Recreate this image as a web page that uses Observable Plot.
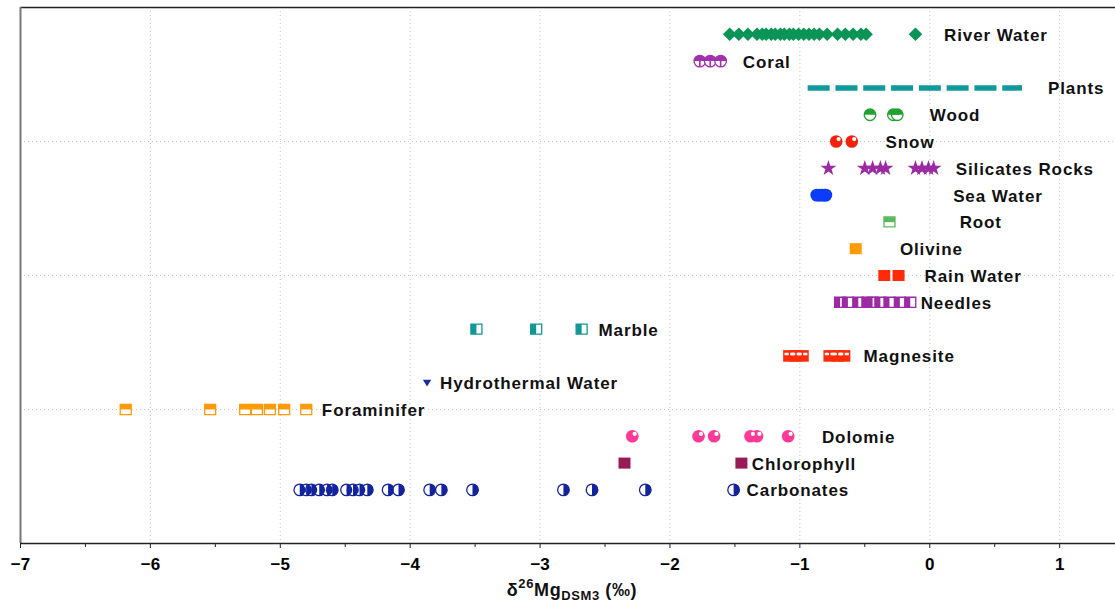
<!DOCTYPE html>
<html><head><meta charset="utf-8">
<script src="https://cdn.jsdelivr.net/npm/d3@7"></script>
<script src="https://cdn.jsdelivr.net/npm/@observablehq/plot@0.6"></script>
<style>
body{margin:0;background:#fff}
#chart svg{font-family:"Liberation Sans",Arial,Helvetica,sans-serif}
g.labels text{letter-spacing:0.9px}
</style>
</head><body><div id="chart"></div>
<script>
// Rows from bottom (1) to top (18)
const categories = ["Carbonates","Chlorophyll","Dolomie","Foraminifer","Hydrothermal Water","Magnesite","Marble","Needles","Rain Water","Olivine","Root","Sea Water","Silicates Rocks","Snow","Wood","Plants","Coral","River Water"];

const riverWater = [-1.54,-1.47,-1.40,-1.33,-1.29,-1.26,-1.22,-1.19,-1.15,-1.12,-1.08,-1.05,-1.01,-0.97,-0.93,-0.89,-0.85,-0.79,-0.71,-0.65,-0.59,-0.53,-0.49,-0.11];
const coral = [-1.77,-1.69,-1.61];
const plants = [-0.94,0.71];
const wood = [-0.46,-0.28,-0.25];
const snow = [-0.72,-0.60];
const silicatesRocks = [-0.78,-0.50,-0.44,-0.38,-0.34,-0.11,-0.06,-0.01,0.03];
const seaWater = [-0.87,-0.85,-0.83,-0.81,-0.80];
const root = [-0.31];
const olivine = [-0.57];
const rainWater = [-0.35,-0.24];
const needles = [-0.69,-0.63,-0.55,-0.48,-0.44,-0.38,-0.31,-0.23,-0.15];
const marble = [-3.49,-3.03,-2.68];
const magnesite = [-1.08,-1.03,-0.98,-0.77,-0.71,-0.66];
const hydrothermalWater = [-3.87];
const foraminifer = [-6.19,-5.54,-5.27,-5.18,-5.08,-4.97,-4.80];
const dolomie = [-2.29,-1.78,-1.66,-1.38,-1.33,-1.09];
const chlorophyll = [-2.35,-1.45];
const carbonates = [-4.85,-4.80,-4.76,-4.70,-4.64,-4.60,-4.49,-4.44,-4.39,-4.33,-4.17,-4.09,-3.85,-3.76,-3.52,-2.82,-2.60,-2.19,-1.51];

// label anchor (x, data units) for each category, same order as categories
const labelX = [-1.41,-1.37,-0.83,-4.68,-3.77,-0.51,-2.55,-0.07,-0.04,-0.23,0.23,0.18,0.20,-0.34,0.00,0.91,-1.44,0.11];

const xTicks = [-7,-6,-5,-4,-3,-2,-1,0,1];
const xMinorTicks = [-6.5,-5.5,-4.5,-3.5,-2.5,-1.5,-0.5,0.5];
const yGrid = [4,9,14];

const seriesValues = {
  "River Water": riverWater, "Coral": coral, "Wood": wood, "Snow": snow,
  "Silicates Rocks": silicatesRocks, "Sea Water": seaWater, "Root": root, "Olivine": olivine,
  "Rain Water": rainWater, "Needles": needles, "Marble": marble, "Magnesite": magnesite,
  "Hydrothermal Water": hydrothermalWater, "Foraminifer": foraminifer, "Dolomie": dolomie,
  "Chlorophyll": chlorophyll, "Carbonates": carbonates
};
const rowOf = name => categories.indexOf(name) + 1;

// custom symbols
const rad = size => Math.sqrt(size / Math.PI);
const sym = f => ({draw(ctx, size){ f(ctx, rad(size)); }});
const circleSym = sym((c,r)=>{c.moveTo(r,0);c.arc(0,0,r,0,2*Math.PI);c.closePath();});
const squareSym = sym((c,r)=>{c.rect(-r,-r*0.92,2*r,1.84*r);});
const diamondSym = sym((c,r)=>{c.moveTo(0,-r);c.lineTo(r,0);c.lineTo(0,r);c.lineTo(-r,0);c.closePath();});
const halfRight = sym((c,r)=>{c.moveTo(0,-r);c.arc(0,0,r,-Math.PI/2,Math.PI/2);c.closePath();});
const halfTop = sym((c,r)=>{c.moveTo(-r,0);c.arc(0,0,r,Math.PI,2*Math.PI);c.closePath();});
const coralSym = sym((c,r)=>{c.moveTo(-r,0);c.arc(0,0,r,Math.PI,2*Math.PI);c.closePath();c.rect(-r*0.14,0,r*0.28,r);});
const squareTop = sym((c,r)=>{c.rect(-r,-r*0.92,2*r,0.92*r);});
const squareLeft = sym((c,r)=>{c.rect(-r,-r*0.92,r,1.84*r);});
const slitSym = sym((c,r)=>{c.rect(-r*0.78,-r*0.5,r*0.66,r*0.4);c.rect(r*0.12,-r*0.5,r*0.66,r*0.4);});
const triDown = sym((c,r)=>{c.moveTo(-r,-r*0.7);c.lineTo(r,-r*0.7);c.lineTo(0,r*0.9);c.closePath();});

const colors = {
  "River Water":"#0a9455","Coral":"#a330ad","Plants":"#11999b","Wood":"#23a12e","Snow":"#f3220f",
  "Silicates Rocks":"#9b2aa3","Sea Water":"#0b3cfa","Root":"#5cb85c","Olivine":"#ff9a08",
  "Rain Water":"#ff2a08","Needles":"#9b2aa3","Marble":"#119797","Magnesite":"#ff2a08",
  "Hydrothermal Water":"#1a2b9c","Foraminifer":"#ff9a08","Dolomie":"#ff3a96",
  "Chlorophyll":"#971b57","Carbonates":"#13239c"
};

const marks = [];
function ptsOf(name){ return seriesValues[name].map(v => ({v, row: rowOf(name)})); }
function base(name, symbol, r, filled, extra={}){
  const c = colors[name];
  marks.push(Plot.dot(ptsOf(name), {x:"v", y:"row", symbol, r,
    fill: filled ? c : "white", stroke: filled ? "none" : c, strokeWidth: 1.3, ...extra}));
}
function over(name, symbol, r, fill, extra={}){
  marks.push(Plot.dot(ptsOf(name), {x:"v", y:"row", symbol, r, fill: fill || colors[name], stroke:"none", ...extra}));
}

// grid and frame
marks.push(Plot.gridX(xTicks.slice(1), {stroke:"#c4c4c4", strokeOpacity:1, strokeDasharray:"1,3", strokeWidth:1}));
marks.push(Plot.gridY(yGrid, {stroke:"#c4c4c4", strokeOpacity:1, strokeDasharray:"1,3", strokeWidth:1}));
marks.push(Plot.ruleY([19], {stroke:"#222", strokeWidth:1.5}));
marks.push(Plot.ruleX([-7], {stroke:"#777", strokeWidth:2}));
marks.push(Plot.ruleY([-1], {stroke:"#222", strokeWidth:1.5}));

// Plants dashed line
marks.push(Plot.line(plants.map(v => ({v, row: rowOf("Plants")})), {x:"v", y:"row", stroke: colors["Plants"], strokeWidth:5.5, strokeDasharray:"22,5.8", strokeLinecap:"butt"}));

base("River Water", diamondSym, 6.8, true);
base("Coral", circleSym, 5.8, false); over("Coral", coralSym, 5.8);
base("Wood", circleSym, 5.8, false); over("Wood", halfTop, 5.8);
base("Snow", circleSym, 6.3, true); over("Snow", circleSym, 2.1, "white", {dx:2.4, dy:-2.4});
base("Silicates Rocks", "star", 5, true);
base("Sea Water", circleSym, 6.4, true);
base("Root", squareSym, 5.5, false); over("Root", squareTop, 5.5, null, {dy:0.3});
base("Olivine", squareSym, 6, true);
base("Rain Water", squareSym, 6, true);
base("Needles", squareSym, 5.5, false); over("Needles", squareLeft, 5.5);
base("Marble", squareSym, 5.5, false); over("Marble", squareLeft, 5.5);
base("Magnesite", squareSym, 6.3, true); over("Magnesite", slitSym, 6.3, "white");
base("Hydrothermal Water", triDown, 4.2, true);
base("Foraminifer", squareSym, 5.5, false); over("Foraminifer", squareTop, 5.5);
base("Dolomie", circleSym, 6.3, true); over("Dolomie", circleSym, 2.1, "white", {dx:2.4, dy:-2.4});
base("Chlorophyll", squareSym, 6, true);
base("Carbonates", circleSym, 5.8, false); over("Carbonates", halfRight, 5.8);

// labels
const labelRows = categories.map((name, i) => ({name, row: i + 1, x: labelX[i]}));
marks.push(Plot.text(labelRows, {x:"x", y:"row", text:"name", textAnchor:"start", fontSize:17, fontWeight:"bold", fill:"#111", dy:1, className:"labels"}));

// axis
marks.push(Plot.axisX(xMinorTicks, {tickSize:4, tickFormat:() => "", stroke:"#222"}));
marks.push(Plot.axisX(xTicks, {tickSize:5, tickPadding:9, fontSize:17, fontWeight:"bold", stroke:"#222", tickFormat: d => d < 0 ? "\u2212" + Math.abs(d) : String(d)}));

const chart = Plot.plot({
  width: 1115, height: 605,
  marginLeft: 20, marginRight: 0, marginTop: 7, marginBottom: 62,
  style: {fontFamily: '"Liberation Sans", Arial, Helvetica, sans-serif', fontSize: "17px", fontWeight: "bold", background: "white"},
  x: {domain: [-7, 1.43], label: null},
  y: {domain: [-1, 19], axis: null, label: null},
  marks
});
document.getElementById("chart").append(chart);

// x axis label with super/subscripts
const t = d3.select(chart).append("text")
  .attr("x", 572).attr("y", 596).attr("text-anchor", "middle")
  .attr("font-size", 18).attr("font-weight", "bold").attr("fill", "#111")
  .style("letter-spacing", "0.6px");
t.append("tspan").text("δ");
t.append("tspan").attr("font-size", 13).attr("dy", -8).text("26");
t.append("tspan").attr("dy", 8).text("Mg");
t.append("tspan").attr("font-size", 13).attr("dy", 4).text("DSM3");
t.append("tspan").attr("dy", -4).text(" (‰)");
</script></body></html>
